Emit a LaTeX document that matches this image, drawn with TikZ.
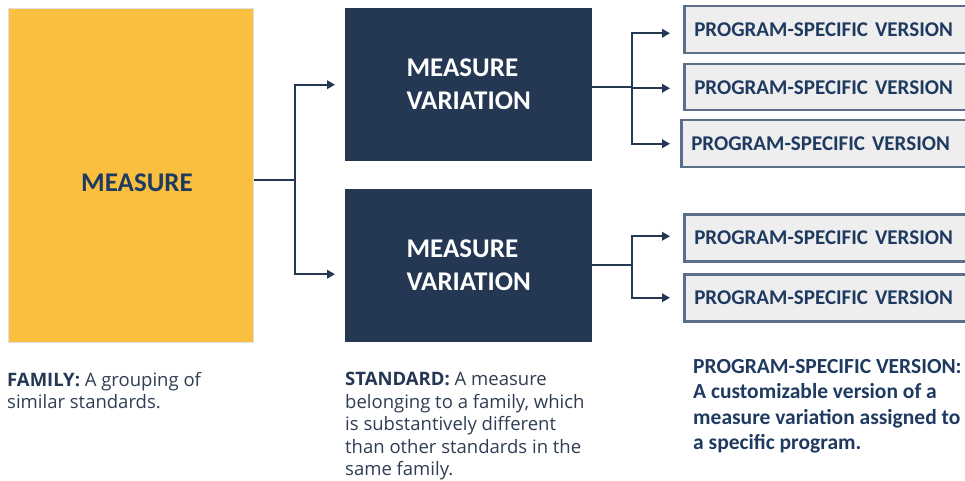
\documentclass[tikz,border=0pt]{standalone}
\usepackage{fontspec}
\setmainfont{Open Sans}
\newfontfamily\calfont{Carlito}
\usetikzlibrary{arrows.meta}
\definecolor{ylw}{HTML}{FBBF40}
\definecolor{navy}{HTML}{243753}
\definecolor{txtnavy}{HTML}{1F3A60}
\definecolor{psvfill}{HTML}{EEEEEE}
\definecolor{psvedge}{HTML}{5B6F8A}
\definecolor{captxt}{HTML}{2F3E54}
\begin{document}
\begin{tikzpicture}[x=1pt,y=-1pt,
 famnode/.style={fill=ylw, draw=black!12, line width=0.6pt, anchor=north west, minimum width=245pt, minimum height=334pt, inner sep=0pt},
 famtext/.style={inner sep=0pt, text=txtnavy, font=\calfont\fontsize{27}{30}\selectfont\bfseries},
 varnode/.style={fill=navy, anchor=north west, minimum width=247pt, minimum height=153pt, inner sep=0pt, text=white, align=left, font=\calfont\fontsize{27}{33}\selectfont\bfseries},
 psvnode/.style={fill=psvfill, draw=psvedge, line width=2.5pt, anchor=north west, minimum height=46pt, inner ysep=0pt, inner xsep=10pt, text width=275pt, align=left, text=txtnavy, font=\calfont\fontsize{21}{24}\selectfont\bfseries},
 link/.style={draw=navy, line width=2pt},
 arr/.style={link, -{Triangle[length=8pt,width=8.5pt]}},
 captext/.style={anchor=north west, inner sep=0pt, align=left, text=captxt, font=\fontsize{18.5}{22.5}\selectfont},
 psvcap/.style={anchor=north west, inner sep=0pt, align=left, text=txtnavy, font=\calfont\fontsize{21.5}{25.5}\selectfont\bfseries}
]
\clip (0,0) rectangle (965,481);
\fill[white] (0,0) rectangle (965,481);

% main boxes
\node[famnode] (m) at (8,8) {};
\node[famtext] (mt) at (137,183) {MEASURE};
\node[varnode] (v1) at (345,8) {MEASURE\\VARIATION};
\node[varnode] (v2) at (345,189) {MEASURE\\VARIATION};

% program-specific versions
\node[psvnode, minimum height=47pt] (p1) at (683,5) {PROGRAM-SPECIFIC VERSION};
\node[psvnode] (p2) at (683,63) {PROGRAM-SPECIFIC VERSION};
\node[psvnode, minimum height=47pt] (p3) at (680,119) {PROGRAM-SPECIFIC VERSION};
\node[psvnode, minimum height=47pt] (p4) at (683,213) {PROGRAM-SPECIFIC VERSION};
\node[psvnode, minimum height=47pt] (p5) at (683,273) {PROGRAM-SPECIFIC VERSION};

% connectors: measure -> variations
\coordinate (j1) at (295,180);
\draw[link] (m.east |- j1) -- (j1);
\draw[arr, shorten >=10pt] (j1) |- (v1.west);
\draw[arr, shorten >=10pt] (j1) |- ([yshift=-8.5pt]v2.west);

% connectors: variation 1 -> versions
\coordinate (j2) at (632,87);
\draw[link] (v1.east |- j2) -- (j2);
\draw[arr, shorten >=13pt] (j2) |- ([yshift=-3.5pt]p1.west);
\draw[arr, shorten >=13pt] (j2) |- ([yshift=-1pt]p2.west);
\draw[arr, shorten >=10pt] (j2) |- (p3.west);

% connectors: variation 2 -> versions
\coordinate (j3) at (632,265);
\draw[link] (v2.east |- j3) -- (j3);
\draw[arr, shorten >=13pt] (j3) |- ([yshift=1.5pt]p4.west);
\draw[arr, shorten >=13pt] (j3) |- (p5.west);

% captions
\node[captext] (cfam) at (7,372) {\textcolor{navy}{\bfseries FAMILY:} A grouping of\\similar standards.};
\node[captext] (cstd) at (345,372) {\textcolor{navy}{\bfseries STANDARD:} A measure\\belonging to a family, which\\is substantively different\\than other standards in the\\same family.};
\node[psvcap] (cpsv) at (693,359) {PROGRAM-SPECIFIC VERSION:\\A customizable version of a\\measure variation assigned to\\a specific program.};
\end{tikzpicture}
\end{document}
